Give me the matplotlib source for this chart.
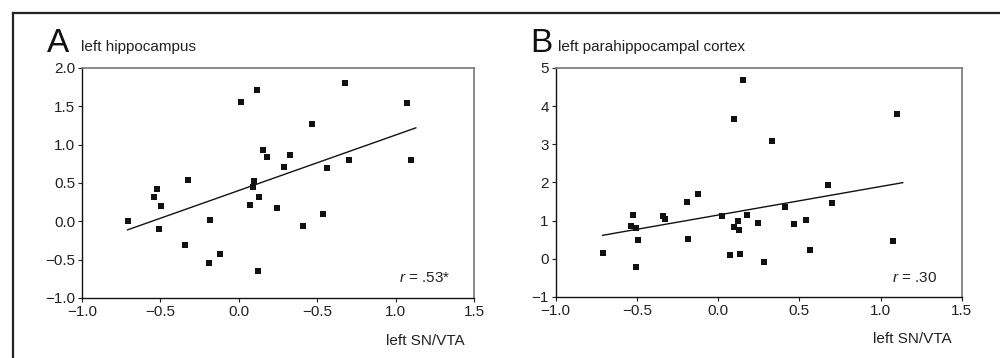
import matplotlib
matplotlib.use("Agg")
import matplotlib.pyplot as plt
from matplotlib.lines import Line2D

plt.rcParams['font.family'] = ['Liberation Sans', 'DejaVu Sans']
plt.rcParams['mathtext.fontset'] = 'custom'
plt.rcParams['mathtext.rm'] = 'Liberation Sans'
plt.rcParams['mathtext.it'] = 'Liberation Sans:italic'

# ---- Data ----
a_x = [-0.709, -0.543, -0.522, -0.495, -0.508, -0.327, -0.342, -0.185, -0.191, -0.123,
       0.012, 0.118, 0.097, 0.093, 0.070, 0.131, 0.125, 0.152, 0.182, 0.241,
       0.286, 0.328, 0.411, 0.470, 0.539, 0.560, 0.677, 0.704, 1.072, 1.099]
a_y = [0.000, 0.318, 0.426, 0.200, -0.103, 0.539, -0.306, 0.014, -0.545, -0.432,
       1.553, 1.713, 0.526, 0.443, 0.214, 0.318, -0.649, 0.933, 0.842, 0.171,
       0.713, 0.860, -0.059, 1.272, 0.101, 0.700, 1.805, 0.804, 1.540, 0.800]
a_fit_x = [-0.709, 1.129]
a_fit_y = [-0.111, 1.219]

b_x = [-0.711, -0.538, -0.524, -0.503, -0.493, -0.505, -0.341, -0.329, -0.189, -0.183,
       -0.124, 0.022, 0.096, 0.096, 0.122, 0.128, 0.073, 0.135, 0.156, 0.180,
       0.248, 0.285, 0.330, 0.414, 0.468, 0.544, 0.566, 0.679, 0.702, 1.075, 1.102]
b_y = [0.153, 0.860, 1.148, 0.799, 0.485, -0.223, 1.122, 1.044, 1.498, 0.520,
       1.690, 1.122, 3.672, 0.825, 1.000, 0.747, 0.092, 0.135, 4.694, 1.157,
       0.939, -0.083, 3.079, 1.358, 0.921, 1.017, 0.231, 1.934, 1.463, 0.459, 3.786]
b_fit_x = [-0.711, 1.137]
b_fit_y = [0.616, 1.996]

x_ticks = [-1.0, -0.5, 0.0, 0.5, 1.0, 1.5]
a_xtick_labels = ['\u22121.0', '\u22120.5', '0.0', '\u22120.5', '1.0', '1.5']
b_xtick_labels = ['\u22121.0', '\u22120.5', '0.0', '0.5', '1.0', '1.5']
a_yticks = [-1.0, -0.5, 0.0, 0.5, 1.0, 1.5, 2.0]
a_ytick_labels = ['\u22121.0', '\u22120.5', '0.0', '0.5', '1.0', '1.5', '2.0']
b_yticks = [-1, 0, 1, 2, 3, 4, 5]
b_ytick_labels = ['\u22121', '0', '1', '2', '3', '4', '5']

panels = [
    dict(letter='A', title='left hippocampus', x=a_x, y=a_y, fx=a_fit_x, fy=a_fit_y,
         xl=a_xtick_labels, yt=a_yticks, yl=a_ytick_labels, ylim=(-1.0, 2.0),
         r=r'$\it{r}$ = .53*', rect=[0.082, 0.1676, 0.392, 0.6425]),
    dict(letter='B', title='left parahippocampal cortex', x=b_x, y=b_y, fx=b_fit_x, fy=b_fit_y,
         xl=b_xtick_labels, yt=b_yticks, yl=b_ytick_labels, ylim=(-1, 5),
         r=r'$\it{r}$ = .30', rect=[0.5557, 0.1704, 0.406, 0.6397]),
]

fig = plt.figure(figsize=(10, 3.58), dpi=100)

# outer frame (top and left lines)
fig.add_artist(Line2D([0.0125, 1.0], [0.965, 0.965], color='#222222', lw=1.6,
                      transform=fig.transFigure))
fig.add_artist(Line2D([0.0125, 0.0125], [0.0, 0.965], color='#222222', lw=1.6,
                      transform=fig.transFigure))

for p in panels:
    ax = fig.add_axes(p['rect'])
    ax.scatter(p['x'], p['y'], marker='s', s=16, color='#111111', linewidths=0, zorder=3)
    ax.plot(p['fx'], p['fy'], color='#111111', lw=1.0)
    ax.set_xlim(-1.0, 1.5)
    ax.set_ylim(*p['ylim'])
    ax.set_xticks(x_ticks)
    ax.set_xticklabels(p['xl'])
    ax.set_yticks(p['yt'])
    ax.set_yticklabels(p['yl'])
    ax.tick_params(direction='out', length=3, width=0.8, pad=2, labelsize=11,
                   colors='#222222')
    for s in ['left', 'bottom']:
        ax.spines[s].set_color('#111111')
        ax.spines[s].set_linewidth(1.0)
    for s in ['top', 'right']:
        ax.spines[s].set_color('#777777')
        ax.spines[s].set_linewidth(1.2)
    ax.text(0.94, 0.085, p['r'], transform=ax.transAxes, ha='right', va='center',
            fontsize=11, color='#222222')
    ax.text(0.975, -0.185, 'left SN/VTA', transform=ax.transAxes, ha='right', va='center',
            fontsize=11, color='#222222')

fig.text(0.047, 0.855, 'A', fontsize=24, color='#111111', ha='left', va='baseline')
fig.text(0.081, 0.858, 'left hippocampus', fontsize=11, color='#222222', ha='left', va='baseline')
fig.text(0.530, 0.855, 'B', fontsize=24, color='#111111', ha='left', va='baseline')
fig.text(0.558, 0.858, 'left parahippocampal cortex', fontsize=11, color='#222222', ha='left', va='baseline')

fig.savefig('out.png', dpi=100)
